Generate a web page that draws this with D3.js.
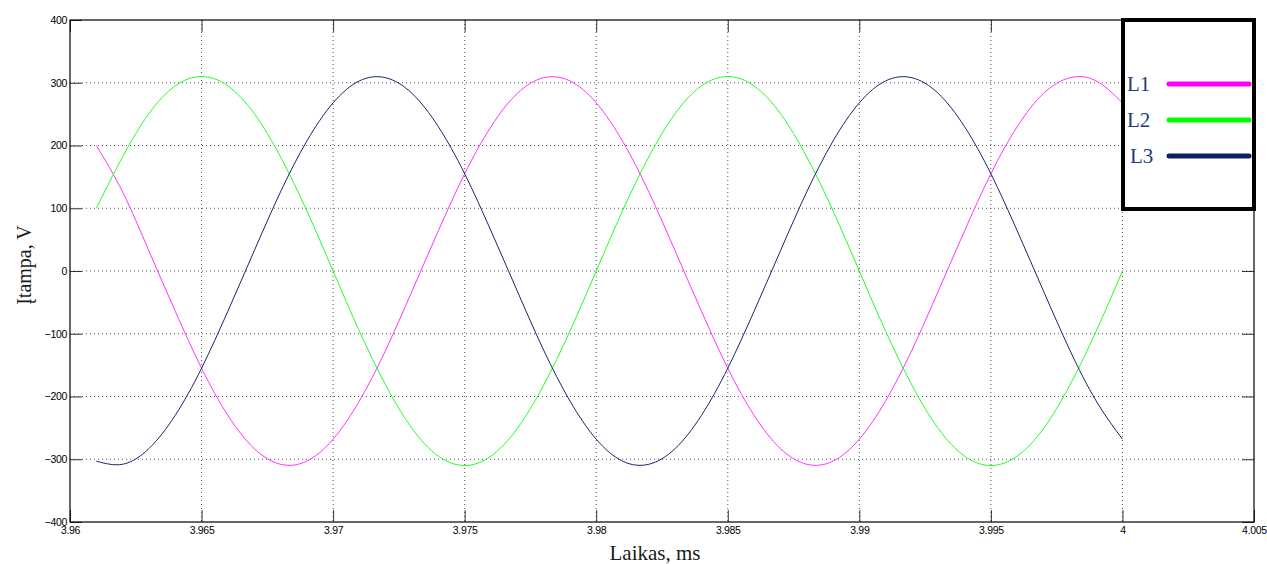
<!DOCTYPE html>
<html>
<head>
<meta charset="utf-8">
<script src="https://cdn.jsdelivr.net/npm/d3@7"></script>
<style>
  body { margin: 0; background: #fff; }
  .tick text { font-family: "Liberation Sans", Arial, sans-serif; font-size: 10.5px; fill: #000; letter-spacing: -0.3px; }
  .lbl { font-family: "Liberation Serif", "Times New Roman", serif; }
</style>
</head>
<body>
<svg class="chart" width="1267" height="564"></svg>
<script>
//time samples (ms) and voltages
var times = [3.961, 3.962, 3.963, 3.964, 3.965, 3.966, 3.967, 3.968, 3.969, 3.970,
             3.971, 3.972, 3.973, 3.974, 3.975, 3.976, 3.977, 3.978, 3.979, 3.980,
             3.981, 3.982, 3.983, 3.984, 3.985, 3.986, 3.987, 3.988, 3.989, 3.990,
             3.991, 3.992, 3.993, 3.994, 3.995, 3.996, 3.997, 3.998, 3.999, 4.000];

var l1 = [200, 126, 32, -64, -155, -230, -283, -308, -303, -268,
          -207, -126, -32, 64, 155, 230, 283, 308, 303, 268,
          207, 126, 32, -64, -155, -230, -283, -308, -303, -268,
          -207, -126, -32, 64, 155, 230, 283, 308, 303, 268];

var l2 = [100, 182, 251, 295, 310, 295, 251, 182, 96, 0,
          -96, -182, -251, -295, -310, -295, -251, -182, -96, 0,
          96, 182, 251, 295, 310, 295, 251, 182, 96, 0,
          -96, -182, -251, -295, -310, -295, -251, -182, -96, 0];

var l3 = [-303, -308, -283, -230, -155, -64, 32, 126, 207, 268,
          303, 308, 283, 230, 155, 64, -32, -126, -207, -268,
          -303, -308, -283, -230, -155, -64, 32, 126, 207, 268,
          303, 308, 283, 230, 155, 64, -32, -126, -207, -268];

var seriesNames = ['L1', 'L2', 'L3'];
var seriesColors = ['#ff33ff', '#22ff22', '#14286a'];
var legendColors = ['#ff00ff', '#00ff00', '#0d2160'];

var xTicks = [3.96, 3.965, 3.97, 3.975, 3.98, 3.985, 3.99, 3.995, 4, 4.005];
var yTicks = [-400, -300, -200, -100, 0, 100, 200, 300, 400];

var svg = d3.select('.chart');
var pLeft = 70, pTop = 20, pRight = 1254, pBottom = 522;

var x = d3.scaleLinear().domain([3.96, 4.005]).range([pLeft, pRight]);
var y = d3.scaleLinear().domain([-400, 400]).range([pBottom, pTop]);

//dotted grid
var grid = svg.append('g').attr('class', 'grid');
grid.selectAll('.gx')
  .data(xTicks.slice(1, -1))
  .enter().append('line')
  .attr('x1', function(d) { return x(d); })
  .attr('x2', function(d) { return x(d); })
  .attr('y1', pTop).attr('y2', pBottom)
  .attr('stroke', '#555').attr('stroke-dasharray', '1,3');

grid.selectAll('.gy')
  .data(yTicks.slice(1, -1))
  .enter().append('line')
  .attr('y1', function(d) { return y(d); })
  .attr('y2', function(d) { return y(d); })
  .attr('x1', pLeft).attr('x2', pRight)
  .attr('stroke', '#555').attr('stroke-dasharray', '1,3');

//axes with inward ticks
var tickFmt = function(d) { return d3.format('')(+d.toFixed(3)); };

svg.append('g')
  .attr('transform', 'translate(' + [0, pBottom] + ')')
  .call(d3.axisBottom(x).tickValues(xTicks).tickSize(-12).tickPadding(5).tickFormat(tickFmt))
  .call(function(g) { g.select('.domain').remove(); });

svg.append('g')
  .attr('transform', 'translate(' + [0, pTop] + ')')
  .call(d3.axisTop(x).tickValues(xTicks).tickSize(-12).tickFormat(''))
  .call(function(g) { g.select('.domain').remove(); });

svg.append('g')
  .attr('transform', 'translate(' + [pLeft, 0] + ')')
  .call(d3.axisLeft(y).tickValues(yTicks).tickSize(-12).tickPadding(3))
  .call(function(g) { g.select('.domain').remove(); });

svg.append('g')
  .attr('transform', 'translate(' + [pRight, 0] + ')')
  .call(d3.axisRight(y).tickValues(yTicks).tickSize(-12).tickFormat(''))
  .call(function(g) { g.select('.domain').remove(); });

svg.selectAll('.tick line').attr('stroke', '#333');

//frame
svg.append('rect')
  .attr('x', pLeft).attr('y', pTop)
  .attr('width', pRight - pLeft).attr('height', pBottom - pTop)
  .attr('fill', 'none').attr('stroke', '#000').attr('stroke-width', 1.2);

//curves
var data = [l1, l2, l3];
var line = d3.line()
  .x(function(d, i) { return x(times[i]); })
  .y(function(d) { return y(d); })
  .curve(d3.curveNatural);

svg.append('g').selectAll('path')
  .data(data)
  .enter().append('path')
  .attr('d', line)
  .attr('fill', 'none')
  .attr('stroke', function(d, i) { return seriesColors[i]; })
  .attr('stroke-width', 1);

//axis titles
svg.append('text')
  .attr('class', 'lbl')
  .attr('x', 655).attr('y', 560)
  .attr('text-anchor', 'middle')
  .attr('font-size', '21px')
  .attr('fill', '#1a1a1a')
  .text('Laikas, ms');

svg.append('text')
  .attr('class', 'lbl')
  .attr('transform', 'translate(' + [31, 265] + ') rotate(-90)')
  .attr('text-anchor', 'middle')
  .attr('font-size', '20px')
  .attr('fill', '#1a1a1a')
  .text('Įtampa, V');

//legend box
var legend = svg.append('g');
legend.append('rect')
  .attr('x', 1123).attr('y', 20)
  .attr('width', 131).attr('height', 189)
  .attr('fill', '#fff').attr('stroke', '#000').attr('stroke-width', 4);

var legendY = [84, 120, 156];
legend.selectAll('.lt')
  .data(seriesNames)
  .enter().append('text')
  .attr('class', 'lbl')
  .attr('x', function(d, i) { return i == 2 ? 1130 : 1127; })
  .attr('y', function(d, i) { return legendY[i] + 7; })
  .attr('font-size', '21px')
  .attr('fill', '#1f3a78')
  .text(function(d) { return d; });

legend.selectAll('.ll')
  .data(seriesNames)
  .enter().append('line')
  .attr('x1', 1169).attr('x2', 1249)
  .attr('y1', function(d, i) { return legendY[i]; })
  .attr('y2', function(d, i) { return legendY[i]; })
  .attr('stroke', function(d, i) { return legendColors[i]; })
  .attr('stroke-width', 5)
  .attr('stroke-linecap', 'round');
</script>
</body>
</html>
